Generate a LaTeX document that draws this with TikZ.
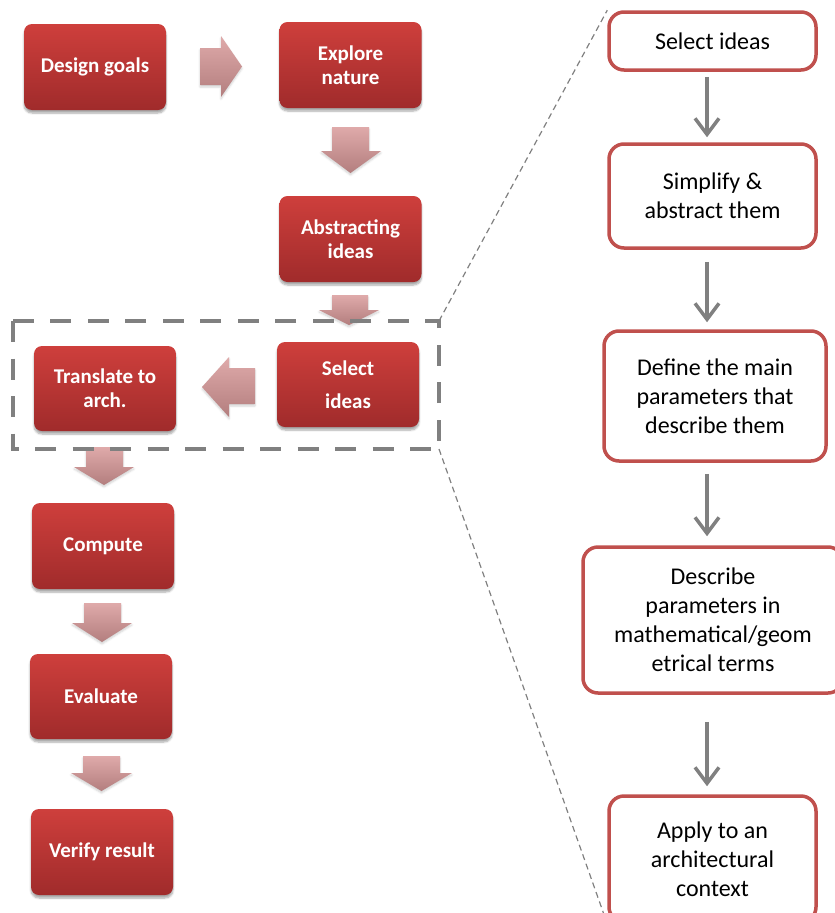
\documentclass[tikz,border=0pt]{standalone}
\usepackage{fontspec}
\setmainfont{Carlito}
\usetikzlibrary{arrows.meta,shadows.blur,backgrounds}

\definecolor{boxtop}{HTML}{CE3F3C}
\definecolor{boxbot}{HTML}{A02B2B}
\definecolor{arrtop}{HTML}{DFAAAA}
\definecolor{arrbot}{HTML}{B37E7E}
\definecolor{frame}{HTML}{C0504D}
\definecolor{link}{HTML}{808080}

\tikzset{
  redbox/.style={rectangle, rounded corners=8pt, minimum width=142pt,
    minimum height=86pt, top color=boxtop, bottom color=boxbot, draw=none,
    text=white, font=\fontsize{21}{24}\selectfont\bfseries, align=center,
    inner sep=0pt,
    blur shadow={shadow xshift=0pt, shadow yshift=-3pt,
      shadow blur steps=6, shadow opacity=35}},
  stepbox/.style={rectangle, rounded corners=15pt, draw=frame,
    line width=3.5pt, fill=white, text=black,
    font=\fontsize{24}{29}\selectfont, align=center, inner sep=0pt},
  blockarrow/.style={top color=arrtop, bottom color=arrbot, draw=none,
    blur shadow={shadow xshift=0pt, shadow yshift=-2pt,
      shadow blur steps=4, shadow opacity=18}},
  flow/.style={draw=link, line width=3.5pt,
    -{Straight Barb[length=16pt,width=24pt]}},
  zoomline/.style={draw=link, line width=1.2pt, dash pattern=on 6pt off 4pt},
  groupbox/.style={draw=link, line width=4.5pt, dash pattern=on 21pt off 16.5pt},
}

\begin{document}
\begin{tikzpicture}[x=1pt,y=-1pt]
\useasboundingbox (0,0) rectangle (835,913);
\clip (0,0) rectangle (835,913);

% main process (left column)
\node[redbox] (goals)     at (95,67)     {Design goals};
\node[redbox] (explore)   at (350.5,65)  {Explore\\nature};
\node[redbox] (abstract)  at (350.5,239) {Abstracting\\ideas};
\node[redbox, minimum height=85pt] (select)    at (348,384.5) {Select\\[9pt]ideas};
\node[redbox, minimum height=85pt] (translate) at (105,388.5) {Translate to\\arch.};
\node[redbox] (compute)   at (103,546)   {Compute};
\node[redbox, minimum height=85pt] (evaluate)  at (101,696.5) {Evaluate};
\node[redbox] (verify)    at (102,852)   {Verify result};

% block arrows between the steps
\path[blockarrow] (200,48) -- (221,48) -- (221,36) -- (242,66.5) -- (221,97)
  -- (221,85) -- (200,85) -- cycle;
\path[blockarrow] (332,127) -- (369,127) -- (369,151) -- (381,151)
  -- (350.5,173) -- (321,151) -- (332,151) -- cycle;
\path[blockarrow] (332,295) -- (368,295) -- (368,310) -- (379,310)
  -- (349,325) -- (319,310) -- (332,310) -- cycle;
\path[blockarrow] (255,368) -- (229,368) -- (229,357) -- (202,387)
  -- (229,417) -- (229,404) -- (255,404) -- cycle;
\path[blockarrow] (86,447) -- (123,447) -- (123,467) -- (134,467)
  -- (104,485) -- (74,467) -- (86,467) -- cycle;
\path[blockarrow] (84,603) -- (121,603) -- (121,623) -- (132,623)
  -- (102,642) -- (72,623) -- (84,623) -- cycle;
\path[blockarrow] (83,756) -- (120,756) -- (120,773) -- (132,773)
  -- (101.5,791) -- (71,773) -- (83,773) -- cycle;

% dashed group around the selection stage
\coordinate (gTL) at (13,321);
\coordinate (gBR) at (439,449);
\draw[groupbox] (gTL) rectangle (gBR);

% detailed sub-process (right column)
\node[stepbox, minimum width=207pt, minimum height=58pt]  (r1) at (712.5,41)  {Select ideas};
\node[stepbox, minimum width=207pt, minimum height=104pt] (r2) at (712.5,196) {Simplify \&\\abstract them};
\node[stepbox, minimum width=222pt, minimum height=130pt] (r3) at (715,396)   {Define the main\\parameters that\\describe them};
\node[stepbox, minimum width=260pt, minimum height=146pt] (r4) at (713,620)   {Describe\\parameters in\\mathematical/geom\\etrical terms};
\node[stepbox, minimum width=207pt, minimum height=126pt] (r5) at (712.5,859) {Apply to an\\architectural\\context};

% zoom lines from the group to the detailed column
\begin{scope}[on background layer]
  \draw[zoomline] (gTL -| gBR) -- (r1.north west);
  \draw[zoomline] (gBR) -- (r5.south west);
\end{scope}

% arrows of the sub-process
\coordinate (ax) at (707,0);
\draw[flow, shorten <=5pt, shorten >=5pt]  (r1.south -| ax) -- (r2.north -| ax);
\draw[flow, shorten <=12pt, shorten >=7pt] (r2.south -| ax) -- (r3.north -| ax);
\draw[flow, shorten <=11pt, shorten >=9pt] (r3.south -| ax) -- (r4.north -| ax);
\draw[flow, shorten <=27pt, shorten >=8pt] (r4.south -| ax) -- (r5.north -| ax);
\end{tikzpicture}
\end{document}
